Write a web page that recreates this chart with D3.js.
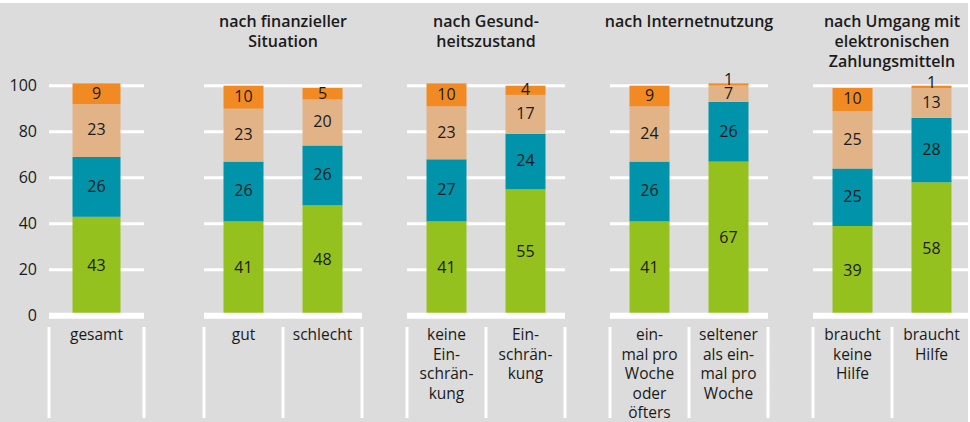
<!DOCTYPE html>
<html>
<head>
<meta charset="utf-8">
<script src="https://cdn.jsdelivr.net/npm/d3@7/dist/d3.min.js"></script>
<style>
  html, body { margin: 0; padding: 0; background: #ffffff; }
  svg { display: block; }
  text { font-family: "Open Sans", "Noto Sans", sans-serif; fill: #1a1a1a; }
</style>
</head>
<body>
<svg id="chart" width="970" height="422"></svg>
<script>
// Groups and their category labels (each label line separated by "|")
const groupTitles = [
  [],
  ["nach finanzieller", "Situation"],
  ["nach Gesund-", "heitszustand"],
  ["nach Internetnutzung"],
  ["nach Umgang mit", "elektronischen", "Zahlungsmitteln"]
];
const groupCategories = [
  ["gesamt"],
  ["gut", "schlecht"],
  ["keine|Ein-|schrän-|kung", "Ein-|schrän-|kung"],
  ["ein-|mal pro|Woche|oder|öfters", "seltener|als ein-|mal pro|Woche"],
  ["braucht|keine|Hilfe", "braucht|Hilfe"]
];

// Stacked series values per category (bottom to top), in percent
const seriesGreen  = [43, 41, 48, 41, 55, 41, 67, 39, 58];
const seriesTeal   = [26, 26, 26, 27, 24, 26, 26, 25, 28];
const seriesTan    = [23, 23, 20, 23, 17, 24, 7, 25, 13];
const seriesOrange = [9, 10, 5, 10, 4, 9, 1, 10, 1];

const yTicks = [0, 20, 40, 60, 80, 100];

const seriesList = [seriesGreen, seriesTeal, seriesTan, seriesOrange];
const colors = ["#95c11f", "#0093a9", "#e1b387", "#f18a23"];

// Panel extents on the horizontal axis
const panels = [
  { x0: 49, x1: 144 },
  { x0: 204, x1: 362 },
  { x0: 407, x1: 565 },
  { x0: 610, x1: 768 },
  { x0: 813, x1: 971 }
];

const svg = d3.select("#chart");
svg.append("rect").attr("x", 0).attr("y", 3).attr("width", 968).attr("height", 419).attr("fill", "#dcdcdc");

const y = d3.scaleLinear().domain([0, 100]).range([315.7, 85.7]);

// y-axis tick labels
svg.append("g").selectAll("text").data(yTicks).join("text")
  .attr("x", 37).attr("y", d => y(d)).attr("dy", "0.35em")
  .attr("text-anchor", "end").attr("font-size", 16)
  .text(d => d);

let idx = 0;
panels.forEach((p, gi) => {
  const cats = groupCategories[gi];
  const x = d3.scaleBand().domain(cats).range([p.x0, p.x1]).paddingInner(0).paddingOuter(0);
  const g = svg.append("g");

  // gridlines behind bars
  g.selectAll("line.grid").data(yTicks.filter(t => t > 0)).join("line")
    .attr("class", "grid")
    .attr("x1", p.x0).attr("x2", p.x1)
    .attr("y1", d => y(d)).attr("y2", d => y(d))
    .attr("stroke", "#ffffff").attr("stroke-width", 3);

  const barW = gi === 0 ? 48 : 40;

  cats.forEach((c, ci) => {
    const k = idx + ci;
    const cx = x(c) + x.bandwidth() / 2;
    let base = 0;
    seriesList.forEach((s, si) => {
      const v = s[k];
      g.append("rect")
        .attr("x", cx - barW / 2).attr("width", barW)
        .attr("y", y(base + v)).attr("height", y(base) - y(base + v))
        .attr("fill", colors[si]);
      g.append("text")
        .attr("x", cx).attr("y", (y(base) + y(base + v)) / 2)
        .attr("dy", v <= 1 ? "0.05em" : "0.3em")
        .attr("text-anchor", "middle").attr("font-size", 16)
        .text(v);
      base += v;
    });

    // category label lines
    const lines = c.split("|");
    g.append("text")
      .attr("text-anchor", "middle").attr("font-size", 15.5)
      .selectAll("tspan").data(lines).join("tspan")
      .attr("x", cx).attr("y", (d, i) => 340 + i * 19.5)
      .text(d => d);
  });

  // zero line on top of the bars
  g.append("line")
    .attr("x1", p.x0).attr("x2", p.x1)
    .attr("y1", y(0)).attr("y2", y(0))
    .attr("stroke", "#ffffff").attr("stroke-width", 6);

  // separators below the axis
  const seps = [p.x0].concat(cats.map(c => x(c) + x.bandwidth()));
  g.selectAll("line.sep").data(seps).join("line")
    .attr("class", "sep")
    .attr("x1", d => d).attr("x2", d => d)
    .attr("y1", 327).attr("y2", 418)
    .attr("stroke", "#ffffff").attr("stroke-width", 3);

  // panel title
  const tc = (p.x0 + p.x1) / 2;
  g.append("text")
    .attr("text-anchor", "middle").attr("font-size", 16).attr("font-weight", 600)
    .selectAll("tspan").data(groupTitles[gi]).join("tspan")
    .attr("x", tc).attr("y", (d, i) => 27 + i * 20)
    .text(d => d);

  idx += cats.length;
});
</script>
</body>
</html>
